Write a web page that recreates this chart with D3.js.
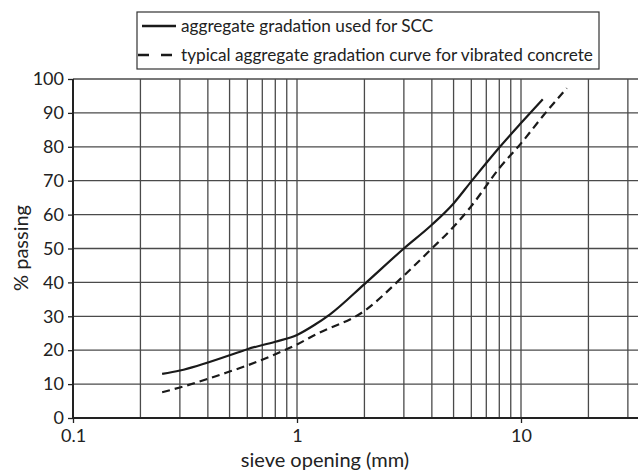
<!DOCTYPE html>
<html>
<head>
<meta charset="utf-8">
<script src="https://d3js.org/d3.v7.min.js"></script>
<style>
  body { margin: 0; background: #fff; }
  text { font-family: Lato, "Open Sans", sans-serif; fill: #222; }
</style>
</head>
<body>
<svg id="viz" width="638" height="472"></svg>
<script>
window.onload = main;

// sieve opening (mm) and % passing
var sccSieve = [0.25, 0.3, 0.5, 0.6, 0.8, 1, 1.2, 1.4, 2, 3, 4, 5, 6, 8, 10, 12.5];
var sccPassing = [13, 14, 18.5, 20.3, 22.5, 24.5, 27.5, 30.5, 39.5, 50, 57, 63.3, 69.8, 79.8, 87, 94];
var vibSieve = [0.25, 0.3, 0.5, 0.6, 0.8, 1, 1.2, 2, 3, 4, 5, 6, 8, 10, 12.5, 16];
var vibPassing = [7.6, 9, 13.7, 15.5, 18.8, 21.7, 24.5, 31.6, 42, 50, 56.4, 62.5, 73.7, 81, 89, 97.3];
var yTicks = [0, 10, 20, 30, 40, 50, 60, 70, 80, 90, 100];
var xTicks = [0.1, 1, 10];
var xGrid = [0.2, 0.3, 0.4, 0.5, 0.6, 0.7, 0.8, 0.9, 1, 2, 3, 4, 5, 6, 7, 8, 9, 10, 20, 30];
var legendLabels = ["aggregate gradation used for SCC", "typical aggregate gradation curve for vibrated concrete"];

function main(){
  var svg = d3.select("#viz");

  var xScale = d3.scaleLog()
                 .domain([0.1, 40])
                 .range([73, 73 + 224 * Math.log10(400)]);
  var yScale = d3.scaleLinear()
                 .domain([0, 100])
                 .range([418, 79]);

  // grid
  svg.append("g").selectAll("line")
    .data(yTicks.slice(1))
    .enter().append("line")
    .attr("x1", 73).attr("x2", 638)
    .attr("y1", function(d){ return yScale(d); })
    .attr("y2", function(d){ return yScale(d); })
    .style("stroke", "#4a4a4a").style("stroke-width", "1.3px");
  svg.append("g").selectAll("line")
    .data(xGrid)
    .enter().append("line")
    .attr("x1", function(d){ return xScale(d); })
    .attr("x2", function(d){ return xScale(d); })
    .attr("y1", yScale(0)).attr("y2", yScale(100))
    .style("stroke", "#4a4a4a").style("stroke-width", "1.3px");

  // axes
  var yAxis = svg.append("g")
    .attr("transform", "translate(73,0)")
    .call(d3.axisLeft(yScale).tickValues(yTicks).tickSize(5).tickPadding(4));
  var xAxis = svg.append("g")
    .attr("transform", "translate(0,418)")
    .call(d3.axisBottom(xScale).tickValues(xTicks).tickFormat(d3.format("")).tickSize(5).tickPadding(6));
  yAxis.select(".domain").remove();
  xAxis.select(".domain").remove();
  svg.selectAll(".tick line").style("stroke", "#222").style("stroke-width", "1.3px");
  svg.selectAll(".tick text").style("font-size", "18px").style("fill", "#222")
    .style("font-family", "Lato, 'Open Sans', sans-serif");
  svg.append("line").attr("x1", 73).attr("x2", 73).attr("y1", yScale(100)).attr("y2", yScale(0))
    .style("stroke", "#222").style("stroke-width", "2px");
  svg.append("line").attr("x1", 73).attr("x2", 638).attr("y1", yScale(0)).attr("y2", yScale(0))
    .style("stroke", "#222").style("stroke-width", "2px");

  // curves
  var line = d3.line()
               .x(function(d){ return xScale(d[0]); })
               .y(function(d){ return yScale(d[1]); })
               .curve(d3.curveMonotoneX);
  svg.append("path")
    .datum(d3.zip(sccSieve, sccPassing))
    .attr("d", line)
    .style("fill", "none").style("stroke", "#1a1a1a").style("stroke-width", "2.2px");
  svg.append("path")
    .datum(d3.zip(vibSieve, vibPassing))
    .attr("d", line)
    .style("fill", "none").style("stroke", "#1a1a1a").style("stroke-width", "2.2px")
    .style("stroke-dasharray", "8,5");

  // legend
  var legend = svg.append("g");
  legend.append("rect")
    .attr("x", 137).attr("y", 12).attr("width", 462).attr("height", 57)
    .style("fill", "#fff").style("stroke", "#333").style("stroke-width", "1.2px");
  legend.append("line")
    .attr("x1", 142).attr("x2", 176).attr("y1", 26).attr("y2", 26)
    .style("stroke", "#1a1a1a").style("stroke-width", "2.4px");
  legend.append("line")
    .attr("x1", 138).attr("x2", 176).attr("y1", 55).attr("y2", 55)
    .style("stroke", "#1a1a1a").style("stroke-width", "2.4px")
    .style("stroke-dasharray", "11,12");
  legend.selectAll("text.leg")
    .data(legendLabels)
    .enter().append("text")
    .attr("class", "leg")
    .attr("x", 181)
    .attr("y", function(d, i){ return 32 + i * 29; })
    .style("font-size", "17.2px")
    .text(function(d){ return d; });

  // axis titles
  svg.append("text")
    .attr("x", 325).attr("y", 467)
    .attr("text-anchor", "middle")
    .style("font-size", "20px")
    .text("sieve opening (mm)");
  svg.append("text")
    .attr("transform", "translate(28,248) rotate(-90)")
    .attr("text-anchor", "middle")
    .style("font-size", "20px")
    .text("% passing");
}
</script>
</body>
</html>
